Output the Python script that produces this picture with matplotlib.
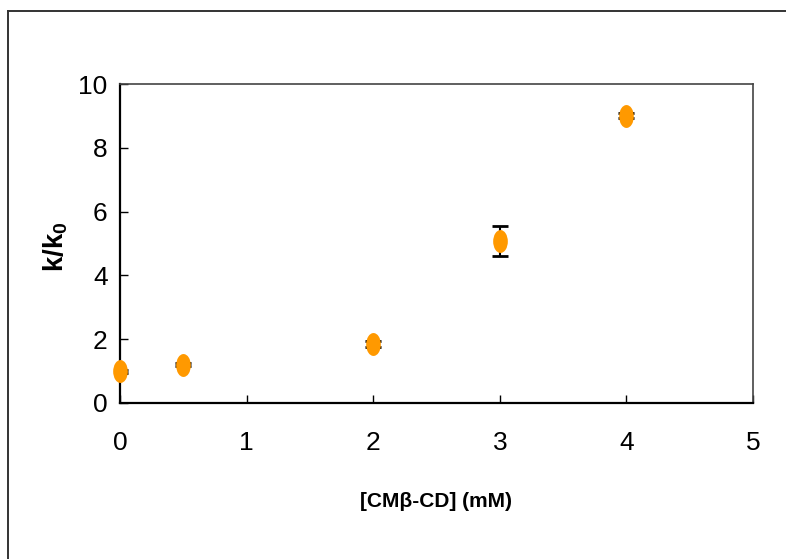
import matplotlib
matplotlib.use('Agg')
import matplotlib.pyplot as plt
from matplotlib.path import Path
from matplotlib.lines import Line2D
from matplotlib.transforms import Affine2D

plt.rcParams['font.family'] = ['Liberation Sans', 'DejaVu Sans']
plt.rcParams['mathtext.default'] = 'regular'

# rate enhancement vs. cyclodextrin concentration
conc = [0.0, 0.5, 2.0, 3.0, 4.0]
k_ratio = [1.0, 1.2, 1.85, 5.08, 9.0]
k_err = [0.05, 0.05, 0.08, 0.47, 0.08]

x_ticks = [0, 1, 2, 3, 4, 5]
y_ticks = [0, 2, 4, 6, 8, 10]

# tall oval marker
oval = Path.unit_circle().transformed(Affine2D().scale(0.64, 1.0))

fig = plt.figure(figsize=(7.86, 5.59), dpi=100)
ax = fig.add_axes([120 / 786, 1 - 403 / 559, 633 / 786, 319 / 559])

ax.errorbar(conc, k_ratio, yerr=k_err, fmt='none', ecolor='black',
            elinewidth=1.5, capsize=6, capthick=2, zorder=2)
ax.plot(conc, k_ratio, linestyle='none', marker=oval, markersize=16.5,
        color='#FF9900', markeredgewidth=0, zorder=3, clip_on=False)

ax.set_xlim(0, 5)
ax.set_ylim(0, 10)
ax.set_xticks(x_ticks)
ax.set_yticks(y_ticks)
ax.tick_params(direction='in', length=6, width=1, labelsize=19, color='black')
ax.tick_params(axis='x', pad=20)
ax.tick_params(axis='y', pad=9)

for side in ['left', 'bottom']:
    ax.spines[side].set_linewidth(1.6)
    ax.spines[side].set_color('black')
for side in ['top', 'right']:
    ax.spines[side].set_linewidth(1.2)
    ax.spines[side].set_color('#444444')

ax.set_xlabel('[CMβ-CD] (mM)', fontsize=15, fontweight='bold', labelpad=27)
ax.set_ylabel('k/k$_\\mathregular{0}$', fontsize=20, fontweight='bold')
ax.yaxis.set_label_coords(-0.079, 0.49)

# outer frame of the chart area
fig.add_artist(Line2D([8 / 786, 8 / 786], [0, 1 - 11 / 559], color='#333333', lw=1.4))
fig.add_artist(Line2D([8 / 786, 1], [1 - 11 / 559, 1 - 11 / 559], color='#333333', lw=1.4))

fig.savefig('out.png', dpi=100)
